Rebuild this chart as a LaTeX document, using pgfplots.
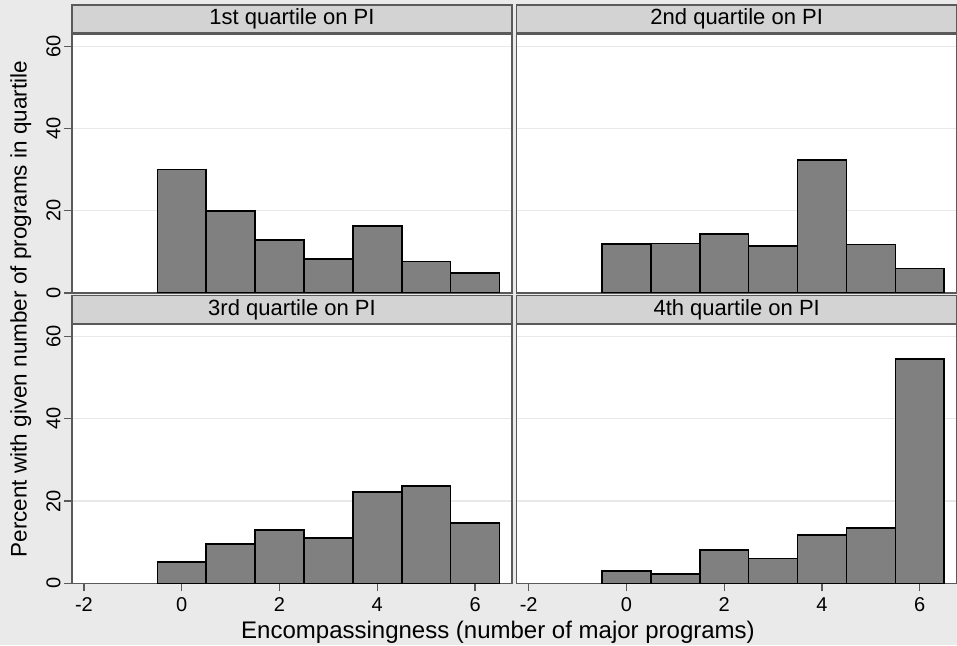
\documentclass[border=0pt]{standalone}
\usepackage{fontspec}
\setmainfont{Liberation Sans}
\usepackage{pgfplots}
\pgfplotsset{compat=1.18}
\definecolor{bg}{HTML}{EAEAEA}
\definecolor{stripc}{HTML}{D3D3D3}
\definecolor{framec}{HTML}{5A5A5A}
\definecolor{gridc}{HTML}{E8E8E8}
\definecolor{barc}{HTML}{808080}
\pgfplotsset{
 panel/.style={
  scale only axis, width=440pt, height=259pt,
  xmin=-2.245, xmax=6.755, ymin=0, ymax=63,
  anchor=south west,
  axis background/.style={fill=white},
  axis line style={draw=framec, line width=1.5pt},
  xtick={-2,0,2,4,6}, ytick={0,20,40,60},
  tick align=outside, xtick pos=bottom, ytick pos=left,
  major tick length=8pt,
  major tick style={draw=framec, line width=1.2pt},
  ymajorgrids, major grid style={draw=gridc, line width=1.2pt},
  tick label style={font=\fontsize{20}{24}\selectfont},
  /pgf/number format/assume math mode=true,
  yticklabel style={rotate=90, anchor=south, xshift=0pt},
  xticklabel style={yshift=-3pt},
  every axis title shift=0pt,
  title style={at={(0.5,1)}, anchor=south, yshift=0pt, minimum width=440pt, minimum height=28pt, inner sep=0pt, fill=stripc, draw=framec, line width=1.5pt, font=\fontsize{22}{26}\selectfont},
 },
 histo/.style={ybar, bar width=1, bar shift=0pt, fill=barc, draw=black, line width=1.6pt},
 toppanel/.style={xtick=\empty},
 rightpanel/.style={yticklabels={}, ytick style={draw=none}},
}
\begin{document}
\begin{tikzpicture}
\useasboundingbox (0,0) rectangle (957pt,645pt);
\fill[bg] (0,0) rectangle (957pt,645pt);
\begin{axis}[panel, toppanel, at={(72pt,352pt)}, title={1st quartile on PI}]
\addplot[histo] coordinates {(0,30.0) (1,20.0) (2,12.9) (3,8.3) (4,16.3) (5,7.7) (6,4.8)};
\end{axis}
\begin{axis}[panel, toppanel, rightpanel, at={(516.7pt,352pt)}, title={2nd quartile on PI}]
\addplot[histo] coordinates {(0,11.9) (1,12.0) (2,14.35) (3,11.4) (4,32.4) (5,11.75) (6,6.0)};
\end{axis}
\begin{axis}[panel, at={(72pt,61.7pt)}, title={3rd quartile on PI}]
\addplot[histo] coordinates {(0,5.25) (1,9.6) (2,12.9) (3,11.0) (4,22.2) (5,23.6) (6,14.7)};
\end{axis}
\begin{axis}[panel, rightpanel, at={(516.7pt,61.7pt)}, title={4th quartile on PI}]
\addplot[histo] coordinates {(0,3.0) (1,2.2) (2,8.1) (3,6.0) (4,11.7) (5,13.4) (6,54.6)};
\end{axis}
\node[rotate=90, anchor=base, font=\fontsize{22.5}{27}\selectfont] at (26.5pt,335.8pt) {Percent with given number of programs in quartile};
\node[anchor=base, font=\fontsize{24}{29}\selectfont] at (498pt,6.7pt) {Encompassingness (number of major programs)};
\end{tikzpicture}
\end{document}
